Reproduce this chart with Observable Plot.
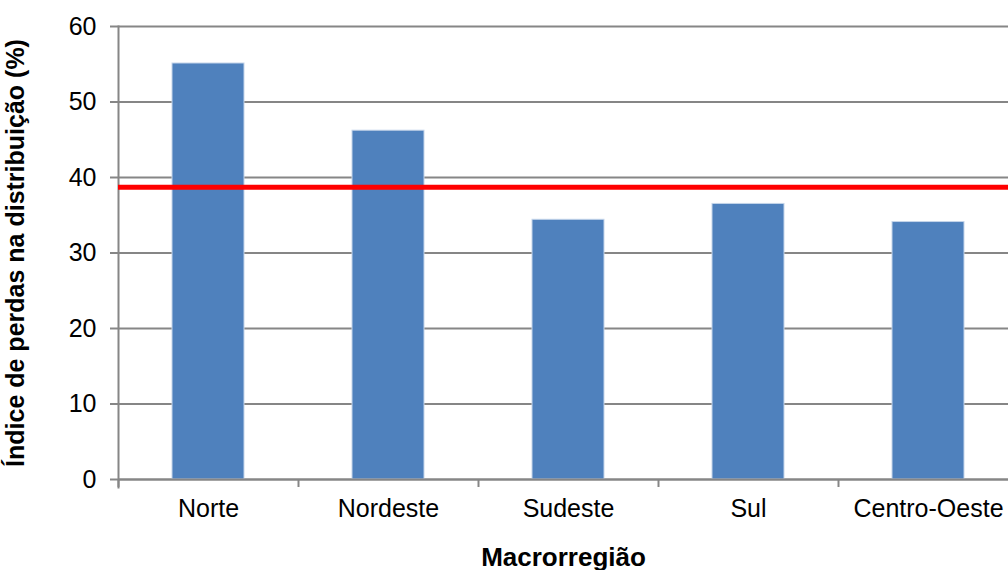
<!DOCTYPE html>
<html>
<head>
<meta charset="utf-8">
<script src="https://cdn.jsdelivr.net/npm/d3@7"></script>
<script src="https://cdn.jsdelivr.net/npm/@observablehq/plot@0.6"></script>
<style>
  html, body { margin: 0; padding: 0; background: #fff; overflow: hidden; }
  #chart svg { display: block; }
</style>
</head>
<body>
<div id="chart"></div>
<script>
const regioes = ["Norte", "Nordeste", "Sudeste", "Sul", "Centro-Oeste"];
const perdas = [55.1, 46.2, 34.4, 36.5, 34.1];
const mediaBrasil = [38.7];
const yTicks = [0, 10, 20, 30, 40, 50, 60];

const data = regioes.map((r, i) => ({regiao: r, valor: perdas[i]}));
const grey = "#868686";

const chart = Plot.plot({
  width: 1008,
  height: 570,
  marginLeft: 118,
  marginRight: 0,
  marginTop: 26,
  marginBottom: 91,
  style: {fontFamily: "'Liberation Sans', Arial, sans-serif", fontSize: "25px", color: "#000", background: "#fff"},
  x: {domain: regioes, range: [118, 1018], paddingInner: 0.6, paddingOuter: 0.3},
  y: {domain: [0, 60], ticks: yTicks},
  marks: [
    Plot.gridY(yTicks, {stroke: grey, strokeOpacity: 1, strokeWidth: 2}),
    Plot.barY(data, {x: "regiao", y: "valor", fill: "#4F81BD", stroke: "#c5d5ea", strokeWidth: 1}),
    Plot.ruleY([0], {stroke: grey, strokeWidth: 2}),
    Plot.ruleX(regioes, {x: d => d, y1: 0, y2: 0, insetBottom: -8, dx: -90, stroke: grey, strokeWidth: 2}),
    Plot.frame({anchor: "left", stroke: grey, strokeWidth: 2, insetBottom: -8}),
    Plot.axisY(yTicks, {tickSize: 8, tickPadding: 14, stroke: grey, strokeWidth: 2, fontSize: 25, fill: "#000",
      label: "Índice de perdas na distribuição (%)", labelAnchor: "center", labelOffset: 112, labelArrow: "none"}),
    Plot.axisX({tickSize: 0, tickPadding: 20, fontSize: 25, fill: "#000",
      label: "Macrorregião", labelAnchor: "center", labelOffset: 86, labelArrow: "none"}),
    Plot.ruleY(mediaBrasil, {y: d => d, stroke: "#ff0000", strokeWidth: 5})
  ]
});

chart.querySelectorAll("g[aria-label='y-axis label'] text").forEach(t => {
  t.setAttribute("font-weight", "bold");
  t.setAttribute("font-size", "25");
});
chart.querySelectorAll("g[aria-label='x-axis label'] text").forEach(t => {
  t.setAttribute("font-weight", "bold");
  t.setAttribute("font-size", "26");
});
document.getElementById("chart").appendChild(chart);
</script>
</body>
</html>
